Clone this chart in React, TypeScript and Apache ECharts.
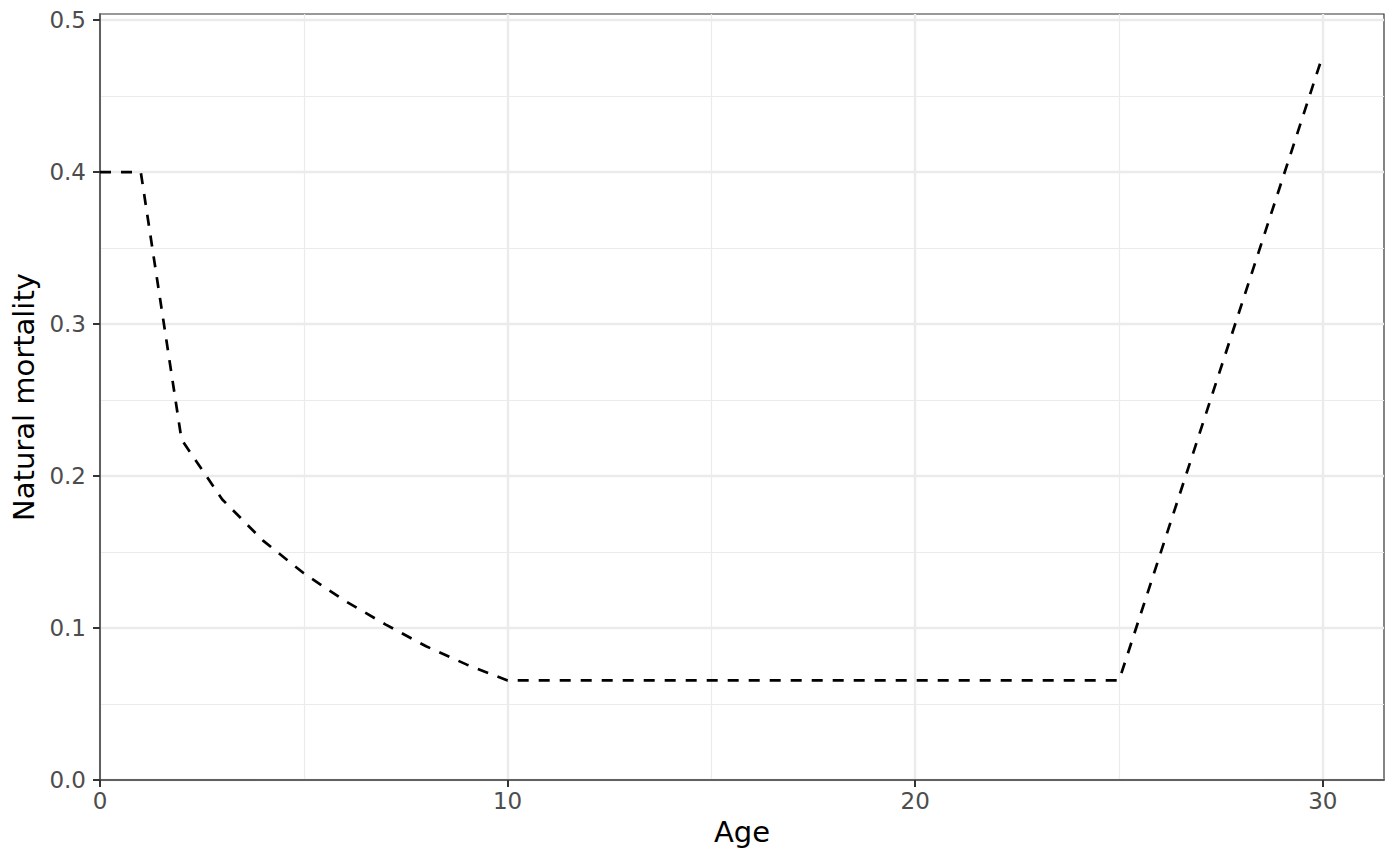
import React, { useEffect, useRef } from "react";
import * as echarts from "echarts";

const ages = [0, 1, 2, 3, 4, 5, 6, 7, 8, 9, 10, 25, 30];
const mortality = [0.4, 0.4, 0.224, 0.1846, 0.1575, 0.136, 0.118, 0.1024, 0.088, 0.0759, 0.0655, 0.0655, 0.477];
const xTicks = [0, 10, 20, 30];
const yTicks = [0, 0.1, 0.2, 0.3, 0.4, 0.5];
const xTitle = "Age";
const yTitle = "Natural mortality";

export default function App() {
  const ref = useRef<HTMLDivElement>(null);
  useEffect(() => {
    if (!ref.current) return;
    const chart = echarts.init(ref.current, null, { renderer: "svg" });
    const font = "DejaVu Sans";
    chart.setOption({
      animation: false,
      backgroundColor: "#ffffff",
      grid: {
        left: 100,
        right: 16,
        top: 14,
        bottom: 85,
        show: true,
        borderColor: "#333333",
        borderWidth: 1.2,
        backgroundColor: "transparent",
      },
      xAxis: {
        type: "value",
        min: 0,
        max: 31.5,
        interval: 10,
        name: xTitle,
        nameLocation: "middle",
        nameGap: 37,
        nameTextStyle: { fontFamily: font, fontSize: 29, color: "#000000" },
        axisLine: { show: true, lineStyle: { color: "#333333", width: 1.5 } },
        axisTick: { show: true, length: 7, customValues: xTicks, lineStyle: { color: "#333333", width: 2 } },
        axisLabel: {
          customValues: xTicks,
          margin: 9,
          fontFamily: font,
          fontSize: 23,
          color: "#4D4D4D",
          formatter: (v: number) => String(v),
        },
        splitLine: { show: true, lineStyle: { color: "#EBEBEB", width: 2.4 } },
        minorTick: { show: false, splitNumber: 2 },
        minorSplitLine: { show: true, lineStyle: { color: "#EBEBEB", width: 1.2 } },
      },
      yAxis: {
        type: "value",
        min: 0,
        max: 0.504,
        interval: 0.1,
        name: yTitle,
        nameLocation: "middle",
        nameRotate: 90,
        nameGap: 62,
        nameTextStyle: { fontFamily: font, fontSize: 29, color: "#000000" },
        axisLine: { show: true, lineStyle: { color: "#333333", width: 1.5 } },
        axisTick: { show: true, length: 7, customValues: yTicks, lineStyle: { color: "#333333", width: 2 } },
        axisLabel: {
          customValues: yTicks,
          margin: 14,
          fontFamily: font,
          fontSize: 23,
          color: "#4D4D4D",
          formatter: (v: number) => v.toFixed(1),
        },
        splitLine: { show: true, lineStyle: { color: "#EBEBEB", width: 2.4 } },
        minorTick: { show: false, splitNumber: 2 },
        minorSplitLine: { show: true, lineStyle: { color: "#EBEBEB", width: 1.2 } },
      },
      series: [
        {
          type: "line",
          data: ages.map((a, i) => [a, mortality[i]]),
          showSymbol: false,
          symbol: "none",
          lineStyle: { color: "#000000", width: 2.7, type: [11, 10] },
        },
      ],
    });
    return () => chart.dispose();
  }, []);
  return (
    <div
      ref={ref}
      style={{ position: "fixed", left: 0, top: 0, width: 1400, height: 865, background: "#fff" }}
    />
  );
}
